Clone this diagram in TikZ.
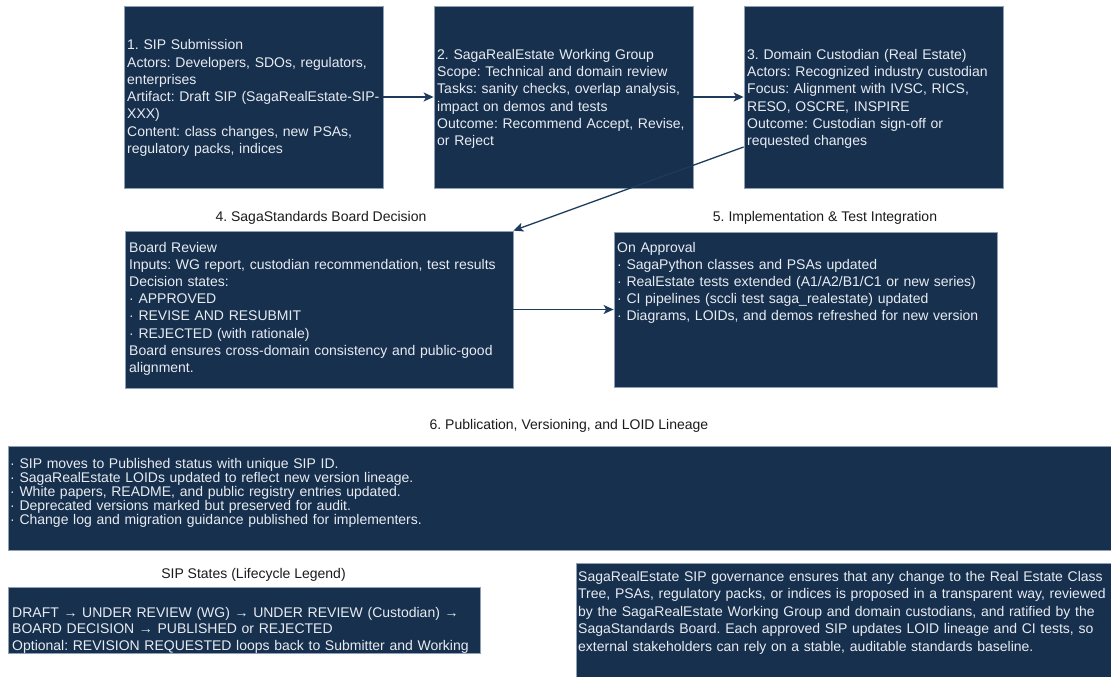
\documentclass[tikz,border=0pt]{standalone}
\usepackage{fontspec}
\setmainfont{Liberation Sans}
\usetikzlibrary{arrows.meta,calc}
\frenchspacing

\definecolor{navy}{HTML}{17304E}
\definecolor{edgegrey}{HTML}{8DA0B6}
\definecolor{ink}{HTML}{E8ECF1}
\definecolor{wire}{HTML}{1E3A5C}
\definecolor{headink}{HTML}{1A1A1A}

\begin{document}
\begin{tikzpicture}[x=1pt,y=-1pt,
  panel/.style={rectangle, draw=edgegrey, fill=navy, line width=0.8pt, inner sep=0pt},
  body/.style={text=ink, font=\fontsize{14}{17.2}\selectfont, align=left,
               text width=600pt, inner sep=0pt, anchor=base west},
  heading/.style={text=headink, font=\fontsize{14}{17}\selectfont, inner sep=0pt, anchor=base},
  flow/.style={draw=wire, line width=1.3pt, -{Stealth[length=10pt,width=9pt,inset=2.5pt]}}
]
\useasboundingbox (0,0) rectangle (1111,677);

% ---- top row: submission, working group, custodian
\node[panel, minimum width=259pt, minimum height=182pt] (b1) at (253.5,97) {};
\node[panel, minimum width=259pt, minimum height=182pt] (b2) at (563.5,97) {};
\node[panel, minimum width=259pt, minimum height=182pt] (b3) at (873.5,97) {};

\node[body] (t1) at (127,50) {1. SIP Submission\\
Actors: Developers, SDOs, regulators,\\
enterprises\\
Artifact: Draft SIP (SagaRealEstate-SIP-\\
XXX)\\
Content: class changes, new PSAs,\\
regulatory packs, indices};

\node[body] (t2) at (437,59.5) {2. SagaRealEstate Working Group\\
Scope: Technical and domain review\\
Tasks: sanity checks, overlap analysis,\\
impact on demos and tests\\
Outcome: Recommend Accept, Revise,\\
or Reject};

\node[body] (t3) at (747,59.5) {3. Domain Custodian (Real Estate)\\
Actors: Recognized industry custodian\\
Focus: Alignment with IVSC, RICS,\\
RESO, OSCRE, INSPIRE\\
Outcome: Custodian sign-off or\\
requested changes};

% ---- middle row: board decision and implementation
\node[heading] (h4) at (321,221.5) {4. SagaStandards Board Decision};
\node[heading] (h5) at (825,221.5) {5. Implementation \& Test Integration};

\node[panel, minimum width=388pt, minimum height=157pt] (b4) at (319,309.5) {};
\node[panel, minimum width=383pt, minimum height=155pt] (b5) at (805.5,309.5) {};

\node[body] (t4) at (129,252) {Board Review\\
Inputs: WG report, custodian recommendation, test results\\
Decision states:\\
· APPROVED\\
· REVISE AND RESUBMIT\\
· REJECTED (with rationale)\\
Board ensures cross-domain consistency and public-good\\
alignment.};

\node[body] (t5) at (617,252) {On Approval\\
· SagaPython classes and PSAs updated\\
· RealEstate tests extended (A1/A2/B1/C1 or new series)\\
· CI pipelines (sccli test saga\_realestate) updated\\
· Diagrams, LOIDs, and demos refreshed for new version};

% ---- publication band
\node[heading] (h6) at (569,429) {6. Publication, Versioning, and LOID Lineage};
\node[panel, minimum width=1104pt, minimum height=104pt] (b6) at (560,498) {};
\node[body, font=\fontsize{14}{13.9}\selectfont] (t6) at (10,468.5) {· SIP moves to Published status with unique SIP ID.\\
· SagaRealEstate LOIDs updated to reflect new version lineage.\\
· White papers, README, and public registry entries updated.\\
· Deprecated versions marked but preserved for audit.\\
· Change log and migration guidance published for implementers.};

% ---- lifecycle legend
\node[heading] (h7) at (253.5,578) {SIP States (Lifecycle Legend)};
\node[panel, minimum width=472pt, minimum height=66pt] (b7) at (244,620) {};
\begin{scope}
  \clip ($(b7.north west)+(0,0)$) rectangle ($(b7.south east)+(0,2)$);
  \node[body, font=\fontsize{14}{16.7}\selectfont] (t7) at (12,617) {DRAFT → UNDER REVIEW (WG) → UNDER REVIEW (Custodian) →\\
BOARD DECISION → PUBLISHED or REJECTED\\
Optional: REVISION REQUESTED loops back to Submitter and Working\\
Group};
\end{scope}

% ---- summary note
\node[panel, minimum width=536pt, minimum height=116pt] (b8) at (844,621) {};
\node[body, font=\fontsize{14}{17.5}\selectfont] (t8) at (578,581) {SagaRealEstate SIP governance ensures that any change to the Real Estate Class\\
Tree, PSAs, regulatory packs, or indices is proposed in a transparent way, reviewed\\
by the SagaRealEstate Working Group and domain custodians, and ratified by the\\
SagaStandards Board. Each approved SIP updates LOID lineage and CI tests, so\\
external stakeholders can rely on a stable, auditable standards baseline.};

% ---- connectors
\draw[flow] (b1.east) -- (b2.west);
\draw[flow] (b2.east) -- (b3.west);
\draw[flow] ($(b3.west)+(0,50)$) -- (b4.north east);
\draw[flow] (b4.east) -- (b5.west);
\end{tikzpicture}
\end{document}
